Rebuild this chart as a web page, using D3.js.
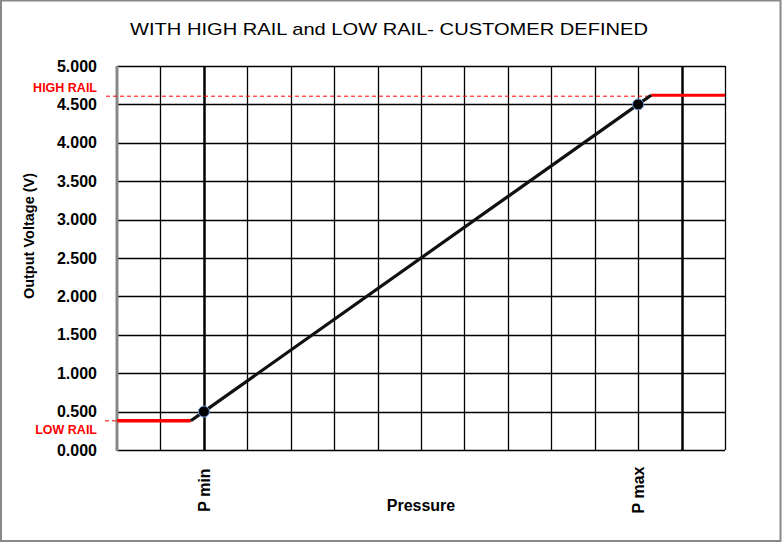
<!DOCTYPE html>
<html><head><meta charset="utf-8">
<script src="https://cdn.jsdelivr.net/npm/d3@7"></script>
<style>body{margin:0;background:#fff}svg{display:block}text{font-family:"Liberation Sans",Arial,sans-serif}</style>
</head><body>
<script>
// ---- data ----
const title = "WITH  HIGH RAIL and LOW RAIL- CUSTOMER DEFINED";
const xGrid = [0,1,2,3,4,5,6,7,8,9,10,11,12,13,14];
const xThick = [2, 13];
const yTicks = [0,0.5,1,1.5,2,2.5,3,3.5,4,4.5,5];
const pressureLabels = ["P min", "P max"];
const pressurePos = [2, 12];
const lineX = [1.7, 2, 12, 12.3];
const lineY = [0.38, 0.5, 4.5, 4.62];
const markerX = [2, 12];
const markerY = [0.5, 4.5];
const lowRail = 0.38, highRail = 4.62;
const lowRailEnd = 1.7, highRailStart = 12.3;

const W = 782, H = 542;
const svg = d3.select("body").append("svg").attr("width", W).attr("height", H);
svg.append("rect").attr("x",1).attr("y",0.5).attr("width",W-2.5).attr("height",H-1.5)
  .attr("fill","#fff").attr("stroke","#888").attr("stroke-width",2);

const x = d3.scaleLinear().domain([0,14]).range([117,725]);
const y = d3.scaleLinear().domain([0,5]).range([450,66]);

svg.append("text").attr("x",389).attr("y",35).attr("text-anchor","middle")
  .attr("font-size",17).attr("textLength",518).attr("lengthAdjust","spacingAndGlyphs").text(title);

// horizontal grid
svg.append("g").selectAll("line").data(yTicks).join("line")
  .attr("x1",x(0)).attr("x2",x(14)).attr("y1",d=>Math.round(y(d))+0.5).attr("y2",d=>Math.round(y(d))+0.5)
  .attr("stroke","#000").attr("stroke-width",1.3);
// vertical grid
svg.append("g").selectAll("line").data(xGrid.slice(1)).join("line")
  .attr("x1",d=>Math.round(x(d))+0.5).attr("x2",d=>Math.round(x(d))+0.5).attr("y1",y(5)).attr("y2",y(0))
  .attr("stroke","#000").attr("stroke-width",d=>xThick.includes(d)?2.5:1.3);
// left axis
svg.append("line").attr("x1",x(0)).attr("x2",x(0)).attr("y1",y(5)).attr("y2",y(0)+1)
  .attr("stroke","#888").attr("stroke-width",3);

// y tick labels
const yAxis = d3.axisLeft(y).tickValues(yTicks).tickFormat(d3.format(".3f")).tickSize(0).tickPadding(20);
const ga = svg.append("g").attr("transform",`translate(${x(0)},0)`).call(yAxis);
ga.select(".domain").remove();
ga.selectAll("text").attr("font-size",16).attr("font-weight","bold").attr("fill","#000")
  .attr("font-family","'Liberation Sans',Arial,sans-serif");

// rails
svg.append("line").attr("x1",106).attr("x2",x(highRailStart)).attr("y1",y(highRail)+1).attr("y2",y(highRail)+1)
  .attr("stroke","#f00").attr("stroke-width",1).attr("stroke-dasharray","4,3");
svg.append("line").attr("x1",x(highRailStart)).attr("x2",x(14)).attr("y1",y(highRail)).attr("y2",y(highRail))
  .attr("stroke","#f00").attr("stroke-width",3);
svg.append("line").attr("x1",105).attr("x2",x(0)).attr("y1",y(lowRail)).attr("y2",y(lowRail))
  .attr("stroke","#f00").attr("stroke-width",1).attr("stroke-dasharray","4,3");
svg.append("line").attr("x1",x(0)).attr("x2",x(lowRailEnd)).attr("y1",y(lowRail)).attr("y2",y(lowRail))
  .attr("stroke","#f00").attr("stroke-width",3.5);

svg.append("text").attr("x",97).attr("y",92).attr("text-anchor","end").attr("font-size",12.5)
  .attr("font-weight","bold").attr("fill","#f00").text("HIGH RAIL");
svg.append("text").attr("x",97).attr("y",434).attr("text-anchor","end").attr("font-size",12.5)
  .attr("font-weight","bold").attr("fill","#f00").text("LOW RAIL");

// transfer line
const pts = lineX.map((v,i)=>[v,lineY[i]]);
svg.append("path").datum(pts).attr("d",d3.line().x(d=>x(d[0])).y(d=>y(d[1])))
  .attr("fill","none").attr("stroke","#111").attr("stroke-width",3.2);
svg.append("g").selectAll("circle").data(markerX).join("circle")
  .attr("cx",d=>x(d)).attr("cy",(d,i)=>y(markerY[i])).attr("r",5.5)
  .attr("fill","#000").attr("stroke","#6f9fd8").attr("stroke-width",1);

// pressure labels
svg.append("g").selectAll("text").data(pressurePos).join("text")
  .attr("transform",d=>`translate(${x(d)+6},490) rotate(-90)`).attr("text-anchor","middle")
  .attr("font-size",16).attr("font-weight","bold").text((d,i)=>pressureLabels[i]);

svg.append("text").attr("x",421).attr("y",511).attr("text-anchor","middle").attr("font-size",16)
  .attr("font-weight","bold").text("Pressure");
svg.append("text").attr("transform","translate(34,236) rotate(-90)").attr("text-anchor","middle")
  .attr("font-size",14.5).attr("font-weight","bold").text("Output Voltage (V)");
</script>
</body></html>
